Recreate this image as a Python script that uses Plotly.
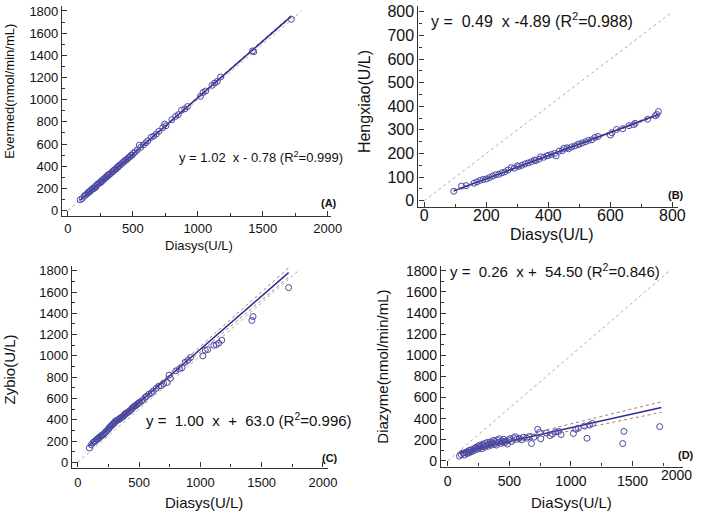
import plotly.graph_objects as go

W, H = 709, 516

# ---------------- data ----------------
# Diasys values shared by panels A, C, D
x_diasys = [95, 110, 125, 135, 145, 155, 160, 170, 175, 185, 190, 200, 210, 215, 225, 230, 240, 250, 255, 260,
            270, 275, 285, 290, 300, 305, 315, 320, 330, 340, 345, 355, 360, 370, 380, 385, 395, 400, 410, 420,
            430, 440, 445, 455, 465, 475, 485, 495, 505, 520, 535, 550, 560, 580, 600, 615, 640, 660, 680, 700,
            730, 745, 755, 800, 830, 850, 875, 900, 920, 1020, 1040, 1060, 1110, 1130, 1150, 1175, 1420, 1430, 1720]

y_evermed = [98, 108, 130, 140, 150, 160, 168, 172, 182, 190, 200, 198, 218, 212, 232, 240, 245, 258, 255, 270,
             272, 285, 290, 300, 305, 318, 320, 330, 335, 350, 350, 365, 368, 375, 392, 390, 405, 410, 418, 432,
             438, 452, 455, 462, 478, 482, 498, 500, 520, 530, 548, 590, 570, 592, 612, 630, 660, 672, 690, 715,
             748, 780, 765, 820, 850, 865, 905, 918, 938, 1030, 1065, 1078, 1130, 1150, 1165, 1205, 1440, 1432, 1725]

y_zybio = [135, 165, 185, 195, 200, 215, 220, 225, 235, 240, 250, 255, 262, 270, 280, 290, 300, 310, 320, 330,
           340, 345, 355, 365, 370, 385, 390, 395, 400, 405, 415, 420, 425, 430, 445, 455, 460, 465, 470, 480,
           490, 500, 510, 520, 530, 535, 545, 555, 565, 575, 590, 610, 620, 640, 650, 670, 695, 715, 720, 740,
           750, 820, 790, 860, 880, 890, 940, 960, 985, 1000, 1054, 1060, 1100, 1105, 1120, 1147, 1333, 1370, 1642]

y_diazyme = [45, 60, 75, 55, 80, 70, 90, 75, 100, 85, 105, 90, 115, 100, 120, 130, 110, 140, 120, 150,
             135, 115, 160, 140, 130, 165, 150, 175, 140, 160, 180, 150, 170, 195, 160, 185, 150, 200, 175, 210,
             165, 190, 180, 205, 175, 190, 160, 200, 210, 185, 220, 230, 205, 215, 200, 225, 215, 230, 165, 225,
             300, 270, 210, 265, 240, 255, 275, 280, 250, 260, 300, 310, 330, 215, 340, 355, 165, 280, 325]

# Panel B (separate sample set)
x_diasys_b = [95, 120, 135, 160, 170, 180, 190, 200, 210, 220, 230, 240, 250, 260, 270, 280, 290, 300, 305, 315,
              325, 335, 345, 355, 360, 370, 375, 385, 395, 400, 410, 420, 425, 435, 445, 450, 460, 465, 475, 485,
              495, 500, 510, 520, 530, 540, 550, 560, 600, 605, 620, 640, 660, 675, 680, 720, 745, 750, 755]
y_hengxiao = [40, 62, 64, 74, 80, 86, 90, 92, 98, 104, 110, 112, 118, 122, 130, 140, 138, 148, 145, 150,
              156, 160, 165, 172, 170, 176, 186, 184, 190, 192, 196, 200, 190, 210, 212, 222, 224, 220, 228, 232,
              238, 240, 245, 250, 256, 258, 268, 272, 278, 288, 302, 305, 318, 322, 328, 345, 360, 365, 378]

# regression lines (slope, intercept), fitted x-span and confidence-band end values
reg_a = dict(slope=1.02, intercept=-0.78, xspan=[95, 1720], upper=[100, 1762], lower=[93, 1745])
reg_b = dict(slope=0.49, intercept=-4.89, xspan=[95, 755], upper=[44, 369], lower=[40, 361])
reg_c = dict(slope=1.00, intercept=63.0, xspan=[90, 1720], upper=[158, 1828], lower=[150, 1740])
reg_d = dict(slope=0.26, intercept=54.50, xspan=[95, 1734], upper=[94, 560], lower=[72, 460])

eq_texts = ["y = 1.02\u00a0 x - 0.78 (R<sup>2</sup>=0.999)",
            "y =\u00a0 0.49\u00a0 x -4.89 (R<sup>2</sup>=0.988)",
            "y =\u00a0 1.00\u00a0 x\u00a0 +\u00a0 63.0 (R<sup>2</sup>=0.996)",
            "y =\u00a0 0.26\u00a0 x +\u00a0 54.50 (R<sup>2</sup>=0.846)"]
panel_labels = ["(A)", "(B)", "(C)", "(D)"]
y_titles = ["Evermed(nmol/min/mL)", "Hengxiao(U/L)", "Zybio(U/L)", "Diazyme(nmol/min/mL)"]
x_titles = ["Diasys(U/L)", "Diasys(U/L)", "Diasys(U/L)", "DiaSys(U/L)"]

# ---------------- layout helpers ----------------
def px_x(p):
    return p / W

def px_y(p):
    return 1 - p / H

MARK = "#4a48a0"
LINE = "#2b2b9c"
BAND = "#b8745c"
IDENT = "#b3aaaa"

panels = [
    dict(x=x_diasys, y=y_evermed, reg=reg_a, ident=[0, 1800],
         xr=[-45, 2023], yr=[-53, 1845], xd=[63, 336], yd=[3, 216], xlast=2000, xso=0,
         xmaj=500, xmin=250, ymaj=200, ymin=100, tfs=13, afs=13, efs=13,
         ytp=(10, 89), xtp=(202, 245), eqp=(265, 156), lbp=(334, 202)),
    dict(x=x_diasys_b, y=y_hengxiao, reg=reg_b, ident=[0, 800],
         xr=[-19, 819], yr=[-25, 825], xd=[425, 689], yd=[3, 206], xlast=800, xso=-6,
         xmaj=200, xmin=100, ymaj=100, ymin=50, tfs=16, afs=16, efs=16,
         ytp=(371, 100), xtp=(561, 234), eqp=(540, 17), lbp=(687, 194)),
    dict(x=x_diasys, y=y_zybio, reg=reg_c, ident=[0, 1800],
         xr=[-48, 2040], yr=[-49, 1846], xd=[73, 333], yd=[266, 470], xlast=2000, xso=3,
         xmaj=500, xmin=250, ymaj=200, ymin=100, tfs=13, afs=15, efs=15,
         ytp=(10, 371), xtp=(207, 505), eqp=(253, 421), lbp=(335, 460)),
    dict(x=x_diasys, y=y_diazyme, reg=reg_d, ident=[0, 1800],
         xr=[-54, 1911], yr=[-53, 1847], xd=[448, 694], yd=[266, 469], xlast=1500, xso=2,
         xmaj=500, xmin=250, ymaj=200, ymin=100, tfs=14, afs=15, efs=15,
         ytp=(389, 368), xtp=(581, 505), eqp=(564, 271), lbp=(697, 457)),
]

FONT = "Liberation Sans, Arial, sans-serif"
fig = go.Figure()
annotations = []
layout = {}

for i, p in enumerate(panels):
    n = "" if i == 0 else str(i + 1)
    xa, ya = "x" + n, "y" + n
    r = p["reg"]
    xs = r["xspan"]
    # identity line
    fig.add_trace(go.Scatter(x=p["ident"], y=p["ident"], mode="lines", xaxis=xa, yaxis=ya,
                             line=dict(color=IDENT, width=1, dash="dot"), showlegend=False, hoverinfo="skip"))
    # confidence bands
    fig.add_trace(go.Scatter(x=xs, y=r["upper"], mode="lines", xaxis=xa, yaxis=ya,
                             line=dict(color=BAND, width=1, dash="dot"), showlegend=False))
    fig.add_trace(go.Scatter(x=xs, y=r["lower"], mode="lines", xaxis=xa, yaxis=ya,
                             line=dict(color=BAND, width=1, dash="dot"), showlegend=False))
    # regression line
    fig.add_trace(go.Scatter(x=xs, y=[r["slope"] * v + r["intercept"] for v in xs], mode="lines",
                             xaxis=xa, yaxis=ya, line=dict(color=LINE, width=1.5), showlegend=False))
    # points
    fig.add_trace(go.Scatter(x=p["x"], y=p["y"], mode="markers", xaxis=xa, yaxis=ya,
                             marker=dict(symbol="circle-open", size=6, color=MARK, line=dict(width=1, color=MARK)),
                             showlegend=False))
    axis_common = dict(showline=True, linecolor="#333", linewidth=1.2, ticks="inside", ticklen=5,
                       tickcolor="#333", showgrid=False, zeroline=False,
                       tickfont=dict(family=FONT, size=p["tfs"], color="#111"))
    xticks = list(range(0, p["xlast"] + 1, p["xmaj"]))
    layout["xaxis" + n] = dict(axis_common, range=p["xr"], domain=[px_x(p["xd"][0]), px_x(p["xd"][1])],
                               anchor=ya, tickmode="array", tickvals=xticks, ticklabelstandoff=p["xso"],
                               minor=dict(dtick=p["xmin"], tick0=0, ticks="inside", ticklen=3, tickcolor="#333"))
    layout["yaxis" + n] = dict(axis_common, range=p["yr"], domain=[px_y(p["yd"][1]), px_y(p["yd"][0])],
                               anchor=xa, tick0=0, dtick=p["ymaj"],
                               minor=dict(dtick=p["ymin"], tick0=0, ticks="inside", ticklen=3, tickcolor="#333"))
    annotations.append(dict(text=y_titles[i], x=px_x(p["ytp"][0]), y=px_y(p["ytp"][1]), xref="paper", yref="paper",
                            showarrow=False, textangle=-90, xanchor="center", yanchor="middle",
                            font=dict(family=FONT, size=p["afs"], color="#111")))
    annotations.append(dict(text=x_titles[i], x=px_x(p["xtp"][0]), y=px_y(p["xtp"][1]), xref="paper", yref="paper",
                            showarrow=False, xanchor="center", yanchor="middle",
                            font=dict(family=FONT, size=p["afs"], color="#111")))
    annotations.append(dict(text=eq_texts[i], x=px_x(p["eqp"][0]), y=px_y(p["eqp"][1]), xref="paper", yref="paper",
                            showarrow=False, xanchor="center", yanchor="middle",
                            font=dict(family=FONT, size=p["efs"], color="#111")))
    annotations.append(dict(text="<b>" + panel_labels[i] + "</b>", x=px_x(p["lbp"][0]), y=px_y(p["lbp"][1]),
                            xref="paper", yref="paper", showarrow=False, xanchor="center", yanchor="middle",
                            font=dict(family=FONT, size=11, color="#111")))

# the raised "2000" tick label of panel D
annotations.append(dict(text="2000", x=px_x(687), y=px_y(478), xref="paper", yref="paper", showarrow=False,
                        xanchor="center", yanchor="middle", font=dict(family=FONT, size=14, color="#111")))

fig.update_layout(width=W, height=H, margin=dict(l=0, r=0, t=0, b=0), plot_bgcolor="white",
                  paper_bgcolor="white", annotations=annotations, showlegend=False,
                  font=dict(family=FONT), **layout)
fig.write_html("out.html", config={"displayModeBar": False},
               post_script="document.body.style.margin='0';document.body.style.overflow='hidden';")
